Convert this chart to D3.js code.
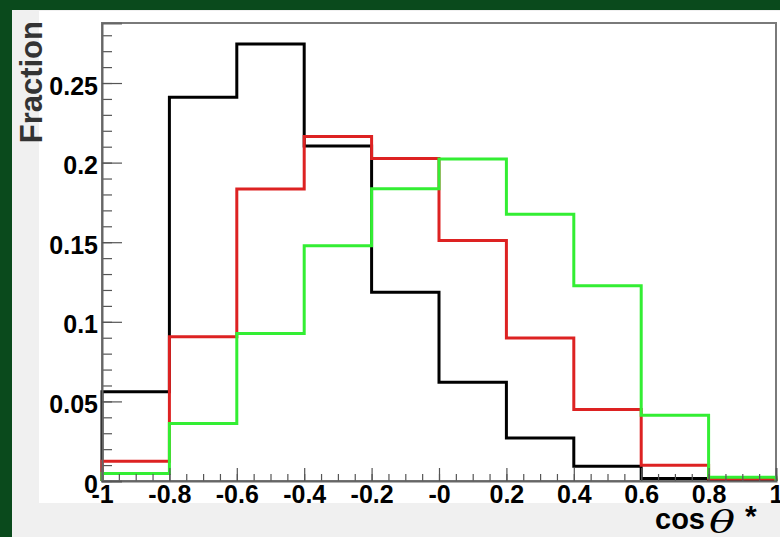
<!DOCTYPE html>
<html>
<head>
<meta charset="utf-8">
<script src="https://cdn.jsdelivr.net/npm/d3@7"></script>
<style>
  body { margin: 0; background: #0a4a1c; }
  svg { display: block; }
  text { font-family: "Liberation Sans", Arial, sans-serif; font-weight: bold; }
</style>
</head>
<body>
<svg width="780" height="537"></svg>
<script>
// bin edges of cos(theta*) and the three fractions per bin
var binEdges = [-1, -0.8, -0.6, -0.4, -0.2, 0, 0.2, 0.4, 0.6, 0.8, 1];
var blackFrac = [0.056, 0.241, 0.2745, 0.2105, 0.1185, 0.062, 0.027, 0.0092, 0.0015, 0.0005];
var redFrac   = [0.0124, 0.0906, 0.1835, 0.2164, 0.2026, 0.151, 0.0899, 0.0449, 0.0099, 0.0012];
var greenFrac = [0.0047, 0.0361, 0.0927, 0.1478, 0.1836, 0.2023, 0.1675, 0.1226, 0.0413, 0.0024];

var xTicks = [-1, -0.8, -0.6, -0.4, -0.2, 0, 0.2, 0.4, 0.6, 0.8, 1];
var xTickLabels = ["-1", "-0.8", "-0.6", "-0.4", "-0.2", "-0", "0.2", "0.4", "0.6", "0.8", "1"];
var yTicks = [0, 0.05, 0.1, 0.15, 0.2, 0.25];
var yTickLabels = ["0", "0.05", "0.1", "0.15", "0.2", "0.25"];

var svg = d3.select("svg"),
    width = +svg.attr("width"),
    height = +svg.attr("height");

// canvas layers: dark green page, light grey canvas, white pad
svg.append("rect").attr("x", 0).attr("y", 0).attr("width", width).attr("height", height)
    .style("fill", "#0a4a1c");
svg.append("rect").attr("x", 12).attr("y", 10).attr("width", width - 12).attr("height", height - 10)
    .style("fill", "#f0f0f0");
svg.append("rect").attr("x", 39).attr("y", 11).attr("width", width - 39).attr("height", 492)
    .style("fill", "#ffffff");

var frame = { left: 102, right: 776, top: 23, bottom: 481 };

var x = d3.scaleLinear().domain([-1, 1]).range([frame.left, frame.right]);
var y = d3.scaleLinear().domain([0, 0.2877]).range([frame.bottom, frame.top]);

// frame
svg.append("rect")
    .attr("x", frame.left).attr("y", frame.top)
    .attr("width", frame.right - frame.left).attr("height", frame.bottom - frame.top)
    .style("fill", "none").style("stroke", "#7a7a7a").style("stroke-width", 2);

// histograms drawn as steps, black first, then red, then green on top
var line = d3.line()
    .x(function (d) { return x(d[0]); })
    .y(function (d) { return y(d[1]); })
    .curve(d3.curveStepAfter);

function stepPoints(vals) {
  var pts = [[binEdges[0], 0]];
  vals.forEach(function (v, i) { pts.push([binEdges[i], v]); });
  pts.push([binEdges[binEdges.length - 1], 0]);
  return pts;
}

var hists = [
  { vals: blackFrac, color: "#000000" },
  { vals: redFrac, color: "#dd2222" },
  { vals: greenFrac, color: "#33ee33" }
];

svg.append("g").selectAll("path")
    .data(hists)
    .enter().append("path")
    .attr("d", function (d) { return line(stepPoints(d.vals)); })
    .style("fill", "none")
    .style("stroke", function (d) { return d.color; })
    .style("stroke-width", 3)
    .style("stroke-linejoin", "miter");

// x axis: minor ticks every 0.05, major every 0.2, ticks point inward
var xMinor = d3.range(0, 41).map(function (i) { return -1 + i * 0.05; });
svg.append("g")
    .attr("transform", "translate(0," + frame.bottom + ")")
    .call(d3.axisBottom(x).tickValues(xMinor).tickSize(-7).tickFormat(""))
    .call(function (g) { g.select(".domain").remove(); g.selectAll("line").style("stroke", "#555").style("stroke-width", 1.2); });

var xAxis = svg.append("g")
    .attr("transform", "translate(0," + frame.bottom + ")")
    .call(d3.axisBottom(x).tickValues(xTicks).tickSize(-13).tickPadding(0)
      .tickFormat(function (d, i) { return xTickLabels[i]; }));
xAxis.select(".domain").style("stroke", "#666").style("stroke-width", 2);
xAxis.selectAll("line").style("stroke", "#555").style("stroke-width", 1.2);
xAxis.selectAll("text")
    .attr("y", 22).attr("dy", 0)
    .style("font-size", "25px").style("font-family", "Liberation Sans, Arial, sans-serif")
    .style("font-weight", "bold").style("fill", "#000");

// y axis: minor every 0.01, major every 0.05
var yMinor = d3.range(0, 29).map(function (i) { return i * 0.01; });
svg.append("g")
    .attr("transform", "translate(" + frame.left + ",0)")
    .call(d3.axisLeft(y).tickValues(yMinor).tickSize(-10).tickFormat(""))
    .call(function (g) { g.select(".domain").remove(); g.selectAll("line").style("stroke", "#555").style("stroke-width", 1.2); });

var yAxis = svg.append("g")
    .attr("transform", "translate(" + frame.left + ",0)")
    .call(d3.axisLeft(y).tickValues(yTicks).tickSize(-20).tickPadding(0)
      .tickFormat(function (d, i) { return yTickLabels[i]; }));
yAxis.select(".domain").style("stroke", "#666").style("stroke-width", 2);
yAxis.selectAll("line").style("stroke", "#555").style("stroke-width", 1.2);
yAxis.selectAll("text")
    .attr("x", -4).attr("dy", 11)
    .style("font-size", "25px").style("font-family", "Liberation Sans, Arial, sans-serif")
    .style("font-weight", "bold").style("fill", "#000");

// axis titles
svg.append("text")
    .attr("transform", "translate(42,21) rotate(-90)")
    .attr("text-anchor", "end")
    .style("font-size", "31px")
    .style("fill", "#333")
    .text("Fraction");

// x title: cos, a wide italic theta, and a raised star
svg.append("text")
    .attr("x", 655).attr("y", 529)
    .style("font-size", "29px")
    .style("fill", "#000")
    .text("cos");
svg.append("text")
    .attr("transform", "translate(709,533) scale(1.4,1)")
    .style("font-family", "DejaVu Serif, serif").style("font-style", "italic").style("font-weight", "normal")
    .style("font-size", "31px")
    .style("fill", "#000")
    .text("θ");
svg.append("text")
    .attr("x", 745).attr("y", 526)
    .style("font-size", "30px")
    .style("fill", "#000")
    .text("*");
</script>
</body>
</html>
